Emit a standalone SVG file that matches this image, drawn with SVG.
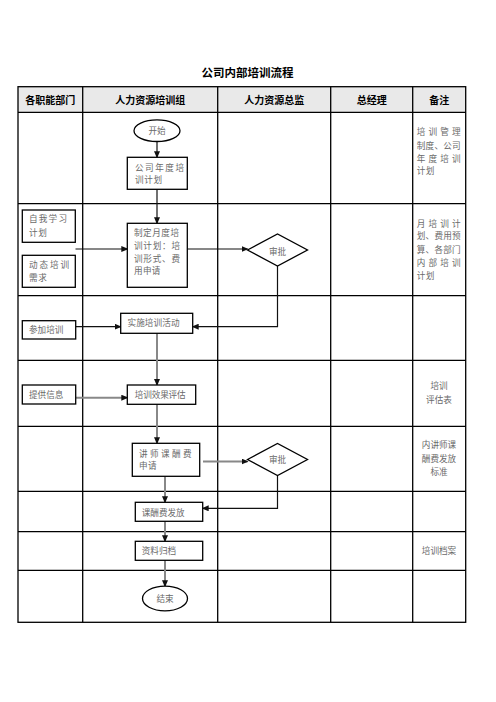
<svg xmlns="http://www.w3.org/2000/svg" width="496" height="702" viewBox="0 0 496 702">
<defs>
<marker id="ah" markerUnits="userSpaceOnUse" markerWidth="7" markerHeight="6" refX="6" refY="3" orient="auto">
<path d="M0,0 L7,3 L0,6 Z" fill="#111"/>
</marker>
<style>
.grid{stroke:#000;stroke-width:1.3;fill:none}
.hd{fill:#e9e9e9;stroke:none}
.ht{font-family:"Liberation Sans","Noto Sans CJK SC",sans-serif;font-size:10px;font-weight:bold;fill:#000;text-anchor:middle}
.title{font-family:"Liberation Sans","Noto Sans CJK SC",sans-serif;font-size:11.5px;font-weight:bold;fill:#000;text-anchor:middle}
.box{fill:#fff;stroke:#000;stroke-width:1.3}
.t{font-family:"Liberation Serif","Noto Sans CJK SC",serif;font-size:8.6px;fill:#6a6a6a}
.c{text-anchor:middle}
.k{fill:none;stroke:#111;stroke-width:1.2;marker-end:url(#ah)}
.g{fill:none;stroke:#888;stroke-width:2;marker-end:url(#ah)}
</style>
</defs>
<rect width="496" height="702" fill="#fff"/>
<text class="title" x="247.5" y="77">公司内部培训流程</text>
<g id="table">
<rect class="hd" x="18" y="86.7" width="447.7" height="25.6"/>
<rect class="grid" x="18" y="86.7" width="447.7" height="535.6"/>
<path class="grid" d="M82.7,86.7V622.3 M217.7,86.7V622.3 M330.7,86.7V622.3 M412.7,86.7V622.3 M18,112.3H465.7 M18,203.7H465.7 M18,295.7H465.7 M18,360.3H465.7 M18,426.3H465.7 M18,491.3H465.7 M18,531.7H465.7 M18,570.3H465.7"/>
<text class="ht" x="50.3" y="103.5">各职能部门</text>
<text class="ht" x="150.2" y="103.5">人力资源培训组</text>
<text class="ht" x="274.2" y="103.5">人力资源总监</text>
<text class="ht" x="371.7" y="103.5">总经理</text>
<text class="ht" x="439.2" y="103.5">备注</text>
</g>
<g id="connectors">
<path class="k" d="M157,141.5V157.3"/>
<path class="k" d="M157,189.3V223.3"/>
<path class="k" d="M75.5,249H127.3"/>
<path class="k" d="M187.3,249H247.5"/>
<path class="k" d="M277.5,266V326.7H192.7"/>
<path class="k" d="M75.7,326.7H120.7"/>
<path class="g" d="M157,333.3V385"/>
<path class="g" d="M75.7,397.7H127.3"/>
<path class="g" d="M157,404.3V443.3"/>
<path class="g" d="M203,461.5H247.5"/>
<path class="k" d="M277.5,475.5V508.3H202.7"/>
<path class="g" d="M165,476.3V502.3"/>
<path class="g" d="M165,521.3V541.3"/>
<path class="g" d="M165,560.3V586.3"/>
</g>
<g id="start">
<ellipse class="box" cx="157" cy="130.7" rx="23" ry="10.8"/>
<text class="t c" x="157" y="134">开始</text>
</g>
<g id="annual-plan">
<rect class="box" x="127.3" y="157.3" width="60" height="32"/>
<text class="t" x="135" y="170.6" textLength="49" lengthAdjust="spacing">公司年度培</text>
<text class="t" x="135" y="183.3" letter-spacing="0.6">训计划</text>
</g>
<g id="monthly-plan">
<rect class="box" x="127.3" y="223.3" width="60" height="64"/>
<text class="t" x="134" y="235.6" textLength="45" lengthAdjust="spacing">制定月度培</text>
<text class="t" x="134" y="249" textLength="46" lengthAdjust="spacing">训计划：培</text>
<text class="t" x="134" y="261.6" textLength="46" lengthAdjust="spacing">训形式、费</text>
<text class="t" x="134" y="274.3" letter-spacing="0.3">用申请</text>
</g>
<g id="self-study">
<rect class="box" x="22.3" y="210" width="53" height="32.3"/>
<text class="t" x="29" y="222.3" textLength="38" lengthAdjust="spacing">自我学习</text>
<text class="t" x="29" y="235.6" letter-spacing="0.6">计划</text>
</g>
<g id="dynamic-needs">
<rect class="box" x="22.3" y="255.3" width="53" height="32"/>
<text class="t" x="29" y="267.6" textLength="40" lengthAdjust="spacing">动态培训</text>
<text class="t" x="29" y="281" letter-spacing="0.6">需求</text>
</g>
<g id="approve1">
<path class="box" d="M247.5,250 L277.5,234 L307.5,250 L277.5,266 Z"/>
<text class="t c" x="277.5" y="254.5">审批</text>
</g>
<g id="attend">
<rect class="box" x="22.3" y="320.7" width="53.4" height="18.3"/>
<text class="t" x="29" y="333.3">参加培训</text>
</g>
<g id="implement">
<rect class="box" x="120.7" y="313.3" width="72" height="20"/>
<text class="t" x="127.5" y="326.3" textLength="52" lengthAdjust="spacing">实施培训活动</text>
</g>
<g id="provide-info">
<rect class="box" x="22.3" y="385" width="53.4" height="19"/>
<text class="t" x="29" y="397.6">提供信息</text>
</g>
<g id="evaluate">
<rect class="box" x="127.3" y="385" width="68.4" height="19.3"/>
<text class="t" x="134.7" y="398.3" textLength="51" lengthAdjust="spacing">培训效果评估</text>
</g>
<g id="fee-apply">
<rect class="box" x="132.3" y="443.3" width="67.4" height="33"/>
<text class="t" x="139" y="456.6" textLength="52.7" lengthAdjust="spacing">讲师课酬费</text>
<text class="t" x="139" y="469.3" letter-spacing="0.3">申请</text>
</g>
<g id="approve2">
<path class="box" d="M247.5,459.5 L277.5,443.5 L307.5,459.5 L277.5,475.5 Z"/>
<text class="t c" x="277.5" y="463">审批</text>
</g>
<g id="fee-pay">
<rect class="box" x="135.3" y="502.3" width="67.4" height="19"/>
<text class="t" x="141.7" y="515.6">课酬费发放</text>
</g>
<g id="archive">
<rect class="box" x="135.3" y="541.3" width="67.4" height="19"/>
<text class="t" x="141.7" y="554">资料归档</text>
</g>
<g id="end">
<ellipse class="box" cx="165" cy="598.5" rx="22.5" ry="12.3"/>
<text class="t c" x="165" y="601.8">结束</text>
</g>
<g id="notes">
<text class="t" x="416.7" y="135" textLength="44" lengthAdjust="spacing">培训管理</text>
<text class="t" x="416.7" y="148.6" textLength="44" lengthAdjust="spacing">制度、公司</text>
<text class="t" x="416.7" y="161.6" textLength="44" lengthAdjust="spacing">年度培训</text>
<text class="t" x="416.7" y="174.3" letter-spacing="0.5">计划</text>
<text class="t" x="416.7" y="226.6" textLength="44" lengthAdjust="spacing">月培训计</text>
<text class="t" x="416.7" y="239.3" textLength="44" lengthAdjust="spacing">划、费用预</text>
<text class="t" x="416.7" y="252.6" textLength="44" lengthAdjust="spacing">算、各部门</text>
<text class="t" x="416.7" y="266" textLength="44" lengthAdjust="spacing">内部培训</text>
<text class="t" x="416.7" y="279" letter-spacing="0.5">计划</text>
<text class="t c" x="439" y="389">培训</text>
<text class="t c" x="439" y="402.6">评估表</text>
<text class="t c" x="439" y="448.3">内讲师课</text>
<text class="t c" x="439" y="461.6">酬费发放</text>
<text class="t c" x="439" y="475">标准</text>
<text class="t c" x="439" y="553.6">培训档案</text>
</g>
</svg>
